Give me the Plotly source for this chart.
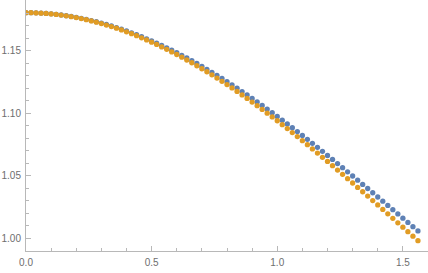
import plotly.graph_objects as go

x_vals = [0.00, 0.02, 0.04, 0.06, 0.08, 0.10, 0.12, 0.14, 0.16, 0.18,
          0.20, 0.22, 0.24, 0.26, 0.28, 0.30, 0.32, 0.34, 0.36, 0.38,
          0.40, 0.42, 0.44, 0.46, 0.48, 0.50, 0.52, 0.54, 0.56, 0.58,
          0.60, 0.62, 0.64, 0.66, 0.68, 0.70, 0.72, 0.74, 0.76, 0.78,
          0.80, 0.82, 0.84, 0.86, 0.88, 0.90, 0.92, 0.94, 0.96, 0.98,
          1.00, 1.02, 1.04, 1.06, 1.08, 1.10, 1.12, 1.14, 1.16, 1.18,
          1.20, 1.22, 1.24, 1.26, 1.28, 1.30, 1.32, 1.34, 1.36, 1.38,
          1.40, 1.42, 1.44, 1.46, 1.48, 1.50, 1.52, 1.54, 1.56]

blue_vals = [1.1806, 1.1806, 1.1805, 1.1803, 1.1800, 1.1797, 1.1793, 1.1788, 1.1782, 1.1776,
             1.1769, 1.1761, 1.1753, 1.1743, 1.1734, 1.1723, 1.1712, 1.1700, 1.1687, 1.1674,
             1.1660, 1.1645, 1.1630, 1.1614, 1.1597, 1.1580, 1.1562, 1.1544, 1.1525, 1.1505,
             1.1485, 1.1464, 1.1443, 1.1421, 1.1399, 1.1376, 1.1352, 1.1328, 1.1304, 1.1279,
             1.1253, 1.1227, 1.1201, 1.1174, 1.1147, 1.1119, 1.1091, 1.1063, 1.1034, 1.1005,
             1.0975, 1.0945, 1.0915, 1.0884, 1.0853, 1.0822, 1.0791, 1.0759, 1.0727, 1.0695,
             1.0662, 1.0630, 1.0597, 1.0564, 1.0531, 1.0497, 1.0464, 1.0430, 1.0397, 1.0363,
             1.0329, 1.0295, 1.0261, 1.0227, 1.0193, 1.0159, 1.0125, 1.0091, 1.0057]

orange_vals = [1.1806, 1.1806, 1.1804, 1.1802, 1.1800, 1.1796, 1.1792, 1.1787, 1.1781, 1.1774,
               1.1767, 1.1759, 1.1750, 1.1740, 1.1730, 1.1719, 1.1707, 1.1695, 1.1682, 1.1668,
               1.1653, 1.1638, 1.1622, 1.1605, 1.1588, 1.1570, 1.1552, 1.1532, 1.1513, 1.1492,
               1.1471, 1.1450, 1.1427, 1.1405, 1.1381, 1.1357, 1.1333, 1.1308, 1.1282, 1.1256,
               1.1230, 1.1203, 1.1175, 1.1147, 1.1119, 1.1090, 1.1061, 1.1031, 1.1001, 1.0971,
               1.0940, 1.0909, 1.0877, 1.0845, 1.0813, 1.0780, 1.0748, 1.0714, 1.0681, 1.0647,
               1.0614, 1.0580, 1.0545, 1.0511, 1.0476, 1.0441, 1.0406, 1.0371, 1.0336, 1.0300,
               1.0265, 1.0229, 1.0194, 1.0158, 1.0122, 1.0087, 1.0051, 1.0015, 0.9979]

x_ticks = [0.0, 0.5, 1.0, 1.5]
x_tick_text = ["0.0", "0.5", "1.0", "1.5"]
y_ticks = [1.00, 1.05, 1.10, 1.15]
y_tick_text = ["1.00", "1.05", "1.10", "1.15"]

BLUE = "#5E81B5"
ORANGE = "#E19C24"
AXIS = "#b8b8b8"
LABEL = "#6e6e6e"

fig = go.Figure()
fig.add_trace(go.Scatter(x=x_vals, y=blue_vals, mode="markers",
                         marker=dict(color=BLUE, size=5.3, line=dict(width=0)),
                         showlegend=False))
fig.add_trace(go.Scatter(x=x_vals, y=orange_vals, mode="markers",
                         marker=dict(color=ORANGE, size=5.3, line=dict(width=0)),
                         showlegend=False))

font = dict(family="Liberation Sans, Arial, sans-serif", size=10, color=LABEL)

fig.update_layout(
    width=428, height=273,
    margin=dict(l=26, r=0, t=0, b=22, pad=0),
    paper_bgcolor="white", plot_bgcolor="white",
    font=font,
)
fig.update_xaxes(
    range=[0, 1.6], showgrid=False, zeroline=False, automargin=False,
    showline=True, linecolor=AXIS, linewidth=1,
    tickmode="array", tickvals=x_ticks, ticktext=x_tick_text,
    ticks="inside", ticklen=5, tickcolor=AXIS, tickwidth=1,
    ticklabelstandoff=2,
    minor=dict(ticks="inside", ticklen=3, tickcolor=AXIS, dtick=0.1, tick0=0, showgrid=False),
    tickfont=font,
)
fig.update_yaxes(
    range=[0.9896, 1.1908], showgrid=False, zeroline=False, automargin=False,
    showline=True, linecolor=AXIS, linewidth=1,
    tickmode="array", tickvals=y_ticks, ticktext=y_tick_text,
    ticks="inside", ticklen=5, tickcolor=AXIS, tickwidth=1,
    ticklabelstandoff=2,
    minor=dict(ticks="inside", ticklen=3, tickcolor=AXIS, dtick=0.01, tick0=1.0, showgrid=False),
    tickfont=font,
)

fig.write_html("out.html", config={"displayModeBar": False},
               post_script="document.body.style.margin='0';document.body.style.overflow='hidden';")
